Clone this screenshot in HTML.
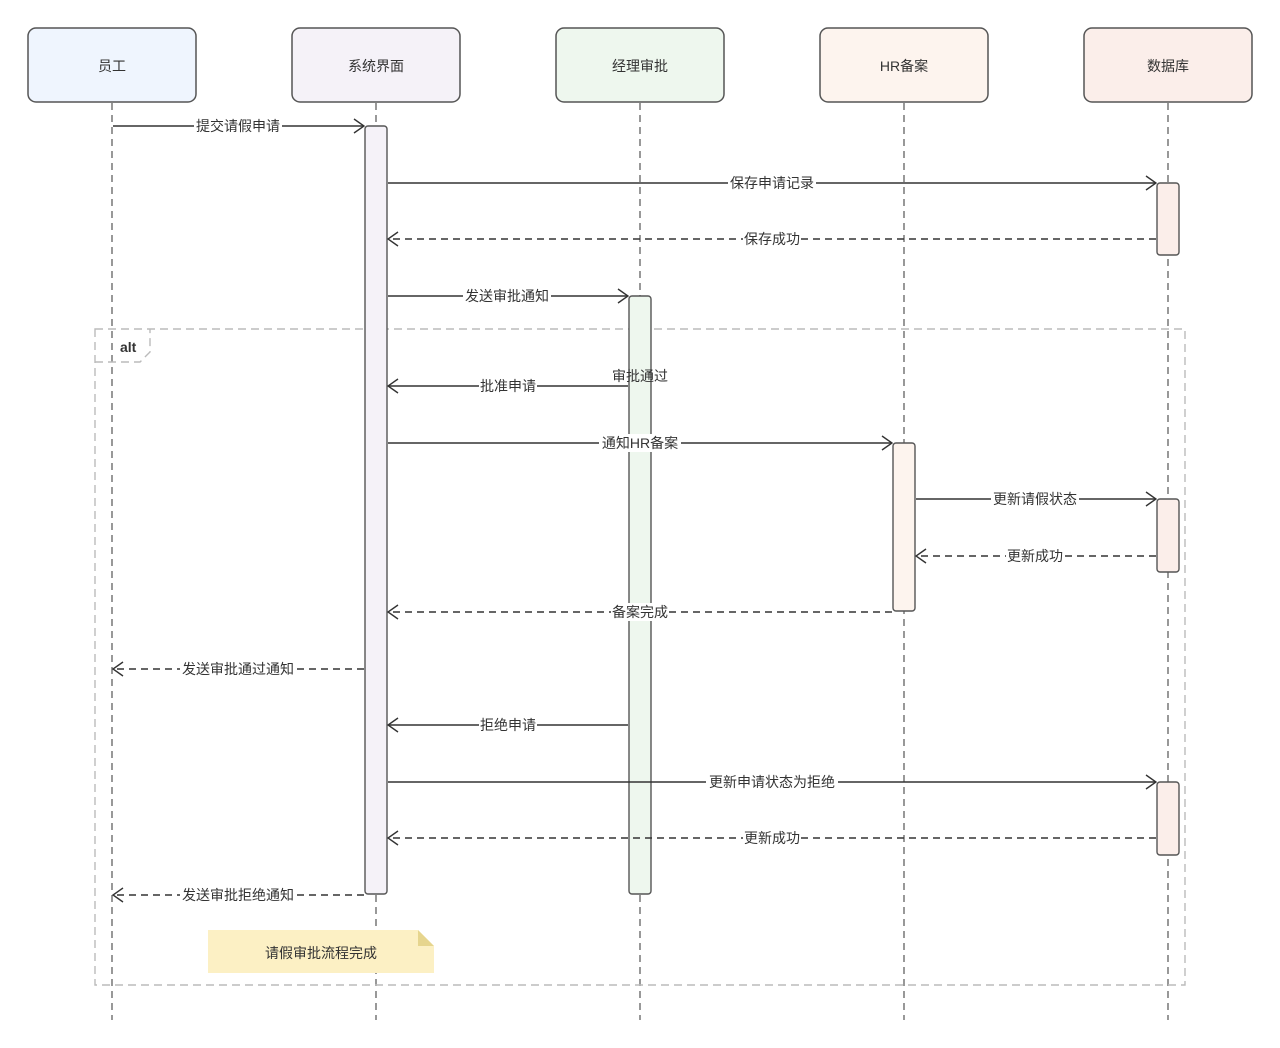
<!DOCTYPE html>
<html><head><meta charset="utf-8"><style>
html,body{margin:0;padding:0;background:#fff;}
svg{display:block;}
text{font-family:"Liberation Sans","Noto Sans CJK SC",sans-serif;font-size:14px;fill:#333;}
.lbl{dominant-baseline:central;text-anchor:middle;}
</style></head><body>
<svg width="1280" height="1048" viewBox="0 0 1280 1048" xmlns="http://www.w3.org/2000/svg">
<defs>
<marker id="a" markerWidth="12" markerHeight="16" refX="11" refY="8" orient="auto" markerUnits="userSpaceOnUse">
<path d="M1,1 L11,8 L1,15" fill="none" stroke="#333" stroke-width="1.4"/></marker>
</defs>
<!-- lifelines -->
<g stroke="#555" stroke-width="1.2" stroke-dasharray="7,5">
<line x1="112" y1="103" x2="112" y2="1020"/>
<line x1="376" y1="103" x2="376" y2="1020"/>
<line x1="640" y1="103" x2="640" y2="1020"/>
<line x1="904" y1="103" x2="904" y2="1020"/>
<line x1="1168" y1="103" x2="1168" y2="1020"/>
</g>
<!-- heads -->
<g stroke="#555" stroke-width="1.5">
<rect x="28" y="28" width="168" height="74" rx="8" fill="#eff5fe"/>
<rect x="292" y="28" width="168" height="74" rx="8" fill="#f5f2f8"/>
<rect x="556" y="28" width="168" height="74" rx="8" fill="#eef7ee"/>
<rect x="820" y="28" width="168" height="74" rx="8" fill="#fdf4ee"/>
<rect x="1084" y="28" width="168" height="74" rx="8" fill="#fbeeea"/>
</g>
<text class="lbl" x="112" y="66">员工</text>
<text class="lbl" x="376" y="66">系统界面</text>
<text class="lbl" x="640" y="66">经理审批</text>
<text class="lbl" x="904" y="66">HR备案</text>
<text class="lbl" x="1168" y="66">数据库</text>
<!-- alt frame -->
<g stroke="#bbb" stroke-width="1.4" stroke-dasharray="8,5" fill="none">
<rect x="95" y="329" width="1090" height="656"/>
<path d="M95,362 H140 L150,352 V329"/>
</g>
<text x="120" y="352" style="font-weight:bold;font-size:14px">alt</text>
<!-- activations -->
<g stroke="#555" stroke-width="1.4">
<rect x="365" y="126" width="22" height="768" rx="3" fill="#f5f2f8"/>
<rect x="629" y="296" width="22" height="598" rx="3" fill="#eef7ee"/>
<rect x="893" y="443" width="22" height="168" rx="3" fill="#fdf4ee"/>
<rect x="1157" y="183" width="22" height="72" rx="3" fill="#fbeeea"/>
<rect x="1157" y="499" width="22" height="73" rx="3" fill="#fbeeea"/>
<rect x="1157" y="782" width="22" height="73" rx="3" fill="#fbeeea"/>
</g>
<!-- messages -->
<g stroke="#333" stroke-width="1.4" fill="none" marker-end="url(#a)">
<line x1="113" y1="126" x2="364" y2="126"/>
<line x1="388" y1="183" x2="1156" y2="183"/>
<line x1="1156" y1="239" x2="388" y2="239" stroke-dasharray="7,5"/>
<line x1="388" y1="296" x2="628" y2="296"/>
<line x1="628" y1="386" x2="388" y2="386"/>
<line x1="388" y1="443" x2="892" y2="443"/>
<line x1="916" y1="499" x2="1156" y2="499"/>
<line x1="1156" y1="556" x2="916" y2="556" stroke-dasharray="7,5"/>
<line x1="892" y1="612" x2="388" y2="612" stroke-dasharray="7,5"/>
<line x1="364" y1="669" x2="113" y2="669" stroke-dasharray="7,5"/>
<line x1="628" y1="725" x2="388" y2="725"/>
<line x1="388" y1="782" x2="1156" y2="782"/>
<line x1="1156" y1="838" x2="388" y2="838" stroke-dasharray="7,5"/>
<line x1="364" y1="895" x2="113" y2="895" stroke-dasharray="7,5"/>
</g>
<!-- label backgrounds -->
<g fill="#fff">
<rect x="194" y="117" width="88" height="18"/>
<rect x="728" y="174" width="88" height="18"/>
<rect x="743" y="230" width="58" height="18"/>
<rect x="463" y="287" width="88" height="18"/>
<rect x="479" y="377" width="58" height="18"/>
<rect x="599" y="434" width="82" height="18"/>
<rect x="991" y="490" width="88" height="18"/>
<rect x="1006" y="547" width="58" height="18"/>
<rect x="611" y="603" width="58" height="18"/>
<rect x="180" y="660" width="116" height="18"/>
<rect x="479" y="716" width="58" height="18"/>
<rect x="706" y="773" width="132" height="18"/>
<rect x="743" y="829" width="58" height="18"/>
<rect x="180" y="886" width="116" height="18"/>
</g>
<text class="lbl" x="238" y="126">提交请假申请</text>
<text class="lbl" x="772" y="183">保存申请记录</text>
<text class="lbl" x="772" y="239">保存成功</text>
<text class="lbl" x="507" y="296">发送审批通知</text>
<text class="lbl" x="640" y="376">审批通过</text>
<text class="lbl" x="508" y="386">批准申请</text>
<text class="lbl" x="640" y="443">通知HR备案</text>
<text class="lbl" x="1035" y="499">更新请假状态</text>
<text class="lbl" x="1035" y="556">更新成功</text>
<text class="lbl" x="640" y="612">备案完成</text>
<text class="lbl" x="238" y="669">发送审批通过通知</text>
<text class="lbl" x="508" y="725">拒绝申请</text>
<text class="lbl" x="772" y="782">更新申请状态为拒绝</text>
<text class="lbl" x="772" y="838">更新成功</text>
<text class="lbl" x="238" y="895">发送审批拒绝通知</text>
<!-- note -->
<path d="M208,930 H418 L434,946 V973 H208 Z" fill="#fcf0c4"/>
<path d="M418,930 L434,946 H418 Z" fill="#e6d58e"/>
<text class="lbl" x="321" y="953">请假审批流程完成</text>
</svg>
</body></html>
